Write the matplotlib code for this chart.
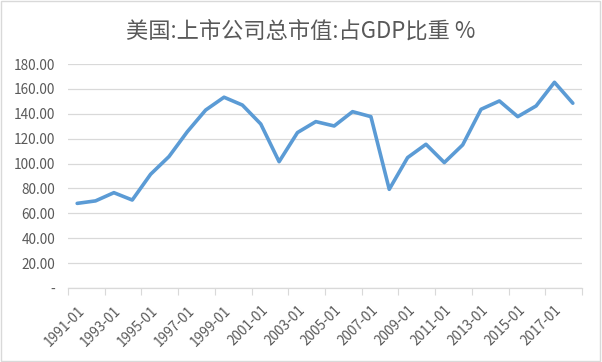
import matplotlib
matplotlib.use("Agg")
import matplotlib.pyplot as plt
from matplotlib.patches import Rectangle

plt.rcParams['font.family'] = ['Noto Sans CJK SC', 'DejaVu Sans']

title = "美国:上市公司总市值:占GDP比重 %"
years = list(range(1991, 2019))
values = [68.0, 70.0, 76.6, 70.7, 91.4, 105.6, 125.6, 143.0, 153.3, 147.0,
          131.8, 101.5, 124.9, 133.7, 130.2, 141.7, 137.7, 79.3, 104.8, 115.5,
          100.8, 115.0, 143.6, 150.3, 137.7, 146.3, 165.3, 148.5]
labels = [f"{y}-01" for y in years]
yticks = [0, 20, 40, 60, 80, 100, 120, 140, 160, 180]
ytick_labels = ["-"] + [f"{v:.2f}" for v in yticks[1:]]

fig = plt.figure(figsize=(6.02, 3.62), dpi=100)
fig.patches.append(Rectangle((0.002, 0.003), 0.995, 0.994, transform=fig.transFigure,
                             fill=False, edgecolor='#D9D9D9', linewidth=1))
ax = fig.add_axes([68/602, 74/362, (582-68)/602, (288-64)/362])

x = list(range(len(values)))
ax.plot(x, values, color='#5B9BD5', linewidth=2.6, solid_joinstyle='round',
        solid_capstyle='round', zorder=3)

ax.set_xlim(-0.5, len(values) - 0.5)
ax.set_ylim(0, 180)
ax.set_yticks(yticks)
ax.set_yticklabels(ytick_labels)
ax.tick_params(axis='y', length=0, labelsize=9.8, colors='#595959', pad=9)
ax.grid(axis='y', color='#D9D9D9', linewidth=0.9, zorder=0)

# boundary tick marks every 2 categories
bounds = [i - 0.5 for i in range(0, len(values) + 1, 2)]
ax.set_xticks(bounds)
ax.set_xticklabels([''] * len(bounds))
ax.tick_params(axis='x', which='major', length=5, color='#D9D9D9', direction='out')
ax.set_xticks(x[::2], minor=True)
ax.set_xticklabels(labels[::2], minor=True, rotation=45, ha='right',
                   rotation_mode='anchor', fontsize=9.8, color='#595959')
ax.tick_params(axis='x', which='minor', length=0, pad=11)

for s in ['top', 'right', 'left']:
    ax.spines[s].set_visible(False)
ax.spines['bottom'].set_color('#D9D9D9')
ax.spines['bottom'].set_linewidth(0.9)

fig.text(0.5, 0.915, title, ha='center', va='center', fontsize=16, color='#595959')

fig.savefig("out.png", dpi=100)
